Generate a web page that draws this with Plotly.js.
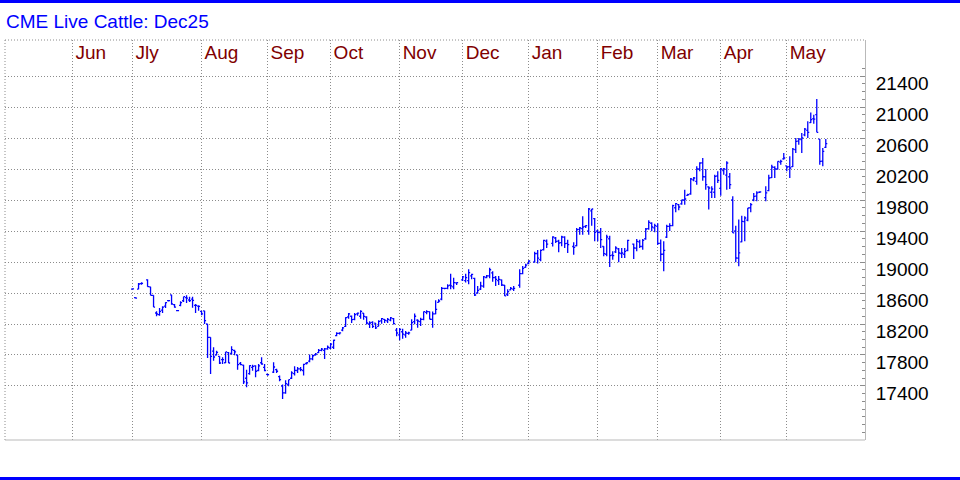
<!DOCTYPE html>
<html>
<head>
<meta charset="utf-8">
<script src="https://cdn.plot.ly/plotly-3.0.1.min.js"></script>
<style>
  html, body { margin: 0; padding: 0; background: #ffffff; }
  #chart { width: 960px; height: 480px; }
</style>
</head>
<body>
<div id="chart"></div>
<script>
// Daily trading sessions, CME Live Cattle December 2025 contract
const dates = [
  '2024-06-28',
  '2024-07-01','2024-07-02','2024-07-03','2024-07-05','2024-07-08','2024-07-09','2024-07-10','2024-07-11','2024-07-12','2024-07-15','2024-07-16','2024-07-17','2024-07-18','2024-07-19','2024-07-22','2024-07-23','2024-07-24','2024-07-25','2024-07-26','2024-07-29','2024-07-30','2024-07-31',
  '2024-08-01','2024-08-02','2024-08-05','2024-08-06','2024-08-07','2024-08-08','2024-08-09','2024-08-12','2024-08-13','2024-08-14','2024-08-15','2024-08-16','2024-08-19','2024-08-20','2024-08-21','2024-08-22','2024-08-23','2024-08-26','2024-08-27','2024-08-28','2024-08-29','2024-08-30',
  '2024-09-03','2024-09-04','2024-09-05','2024-09-06','2024-09-09','2024-09-10','2024-09-11','2024-09-12','2024-09-13','2024-09-16','2024-09-17','2024-09-18','2024-09-19','2024-09-20','2024-09-23','2024-09-24','2024-09-25','2024-09-26','2024-09-27','2024-09-30',
  '2024-10-01','2024-10-02','2024-10-03','2024-10-04','2024-10-07','2024-10-08','2024-10-09','2024-10-10','2024-10-11','2024-10-14','2024-10-15','2024-10-16','2024-10-17','2024-10-18','2024-10-21','2024-10-22','2024-10-23','2024-10-24','2024-10-25','2024-10-28','2024-10-29','2024-10-30','2024-10-31',
  '2024-11-01','2024-11-04','2024-11-05','2024-11-06','2024-11-07','2024-11-08','2024-11-11','2024-11-12','2024-11-13','2024-11-14','2024-11-15','2024-11-18','2024-11-19','2024-11-20','2024-11-21','2024-11-22','2024-11-25','2024-11-26','2024-11-27','2024-11-29',
  '2024-12-02','2024-12-03','2024-12-04','2024-12-05','2024-12-06','2024-12-09','2024-12-10','2024-12-11','2024-12-12','2024-12-13','2024-12-16','2024-12-17','2024-12-18','2024-12-19','2024-12-20','2024-12-23','2024-12-24','2024-12-26','2024-12-27','2024-12-30','2024-12-31',
  '2025-01-02','2025-01-03','2025-01-06','2025-01-07','2025-01-08','2025-01-10','2025-01-13','2025-01-14','2025-01-15','2025-01-16','2025-01-17','2025-01-21','2025-01-22','2025-01-23','2025-01-24','2025-01-27','2025-01-28','2025-01-29','2025-01-30','2025-01-31',
  '2025-02-03','2025-02-04','2025-02-05','2025-02-06','2025-02-07','2025-02-10','2025-02-11','2025-02-12','2025-02-13','2025-02-14','2025-02-18','2025-02-19','2025-02-20','2025-02-21','2025-02-24','2025-02-25','2025-02-26','2025-02-27','2025-02-28',
  '2025-03-03','2025-03-04','2025-03-05','2025-03-06','2025-03-07','2025-03-10','2025-03-11','2025-03-12','2025-03-13','2025-03-14','2025-03-17','2025-03-18','2025-03-19','2025-03-20','2025-03-21','2025-03-24','2025-03-25','2025-03-26','2025-03-27','2025-03-28','2025-03-31',
  '2025-04-01','2025-04-02','2025-04-03','2025-04-04','2025-04-07','2025-04-08','2025-04-09','2025-04-10','2025-04-11','2025-04-14','2025-04-15','2025-04-16','2025-04-17','2025-04-21','2025-04-22','2025-04-23','2025-04-24','2025-04-25','2025-04-28','2025-04-29','2025-04-30',
  '2025-05-01','2025-05-02','2025-05-05','2025-05-06','2025-05-07','2025-05-08','2025-05-09','2025-05-12','2025-05-13','2025-05-14','2025-05-15','2025-05-16','2025-05-19'
];

const opens = [
  18650,
  18540,18650,18720,18770,18680,18570,18342,18320,18380,18430,18501,18575,18450,18372,18440,18500,18540,18510,18520,18440,18430,18363,
  18370,18200,18028,17850,17800,17783,17740,17700,17830,17820,17860,17800,17690,17670,17500,17560,17640,17660,17600,17700,17640,17550,
  17580,17610,17520,17400,17310,17420,17500,17560,17600,17620,17600,17690,17720,17750,17800,17830,17860,17860,17880,17890,
  17900,18050,18080,18120,18170,18290,18300,18260,18330,18300,18340,18290,18200,18220,18210,18170,18240,18260,18240,18250,18270,18120,18060,
  18100,18060,18080,18120,18230,18250,18230,18260,18350,18360,18260,18330,18480,18520,18660,18660,18700,18680,18730,18770,
  18760,18760,18820,18790,18600,18650,18690,18800,18820,18860,18800,18760,18770,18700,18580,18640,18650,18700,18850,18930,18980,
  19000,19110,19030,19160,19270,19240,19310,19270,19250,19320,19240,19200,19210,19420,19430,19460,19400,19660,19560,19400,
  19380,19200,19100,19300,19090,19130,19170,19110,19100,19150,19230,19180,19260,19200,19300,19430,19500,19440,19460,
  19240,19100,19320,19460,19470,19700,19740,19750,19800,19860,19880,20060,20040,20200,20280,20100,19970,19900,19900,20110,19950,
  20180,20120,20100,19800,19400,19050,19260,19520,19540,19700,19800,19850,19900,19830,19920,20090,20220,20200,20290,20330,20240,
  20230,20230,20450,20560,20580,20640,20700,20800,20850,20901,20587,20300,20480
];

const highs = [
  18660,
  18545,18729,18738,18776,18682,18570,18363,18406,18428,18480,18505,18578,18458,18378,18492,18553,18570,18553,18553,18458,18441,18372,
  18372,18200,18028,17899,17856,17783,17770,17839,17839,17912,17869,17804,17710,17675,17611,17667,17675,17667,17684,17770,17684,17559,
  17706,17624,17534,17418,17473,17482,17590,17654,17645,17645,17688,17706,17805,17805,17826,17878,17890,17890,17921,17955,
  17998,18093,18093,18161,18287,18342,18310,18342,18350,18376,18342,18299,18234,18234,18213,18247,18278,18265,18278,18290,18278,18149,18149,
  18140,18110,18101,18261,18334,18261,18282,18360,18377,18360,18360,18506,18519,18678,18669,18712,18850,18798,18740,18820,
  18850,18906,18850,18798,18691,18746,18820,18832,18927,18880,18820,18820,18775,18703,18648,18678,18691,18906,18948,18979,19022,
  19133,19155,19160,19288,19290,19331,19323,19288,19340,19331,19288,19254,19439,19452,19589,19475,19697,19684,19568,19417,
  19439,19202,19353,19340,19138,19202,19181,19181,19181,19288,19240,19297,19288,19297,19439,19538,19512,19495,19500,
  19290,19267,19482,19500,19740,19762,19750,19805,19934,19882,20084,20097,20235,20286,20342,20200,19977,19977,20127,20170,20213,
  20213,20299,20149,19848,19469,19550,19598,19590,19697,19762,19891,19912,19912,19977,20127,20256,20235,20299,20321,20407,20243,
  20364,20471,20600,20600,20665,20729,20815,20931,20901,21103,20587,20471,20587
];

const lows = [
  18645,
  18530,18647,18707,18682,18570,18419,18299,18308,18342,18406,18490,18450,18411,18368,18428,18484,18471,18484,18411,18342,18372,18312,
  18200,17761,17555,17727,17796,17684,17684,17697,17697,17804,17796,17611,17667,17426,17383,17546,17598,17512,17590,17675,17590,17533,
  17568,17568,17460,17233,17301,17396,17491,17534,17568,17590,17534,17676,17706,17731,17792,17826,17848,17749,17869,17878,
  17878,18041,18063,18106,18161,18269,18213,18248,18308,18269,18256,18192,18149,18149,18136,18170,18204,18213,18213,18234,18192,18041,17990,
  18010,18024,18060,18119,18196,18153,18175,18248,18325,18261,18153,18325,18476,18506,18648,18648,18648,18648,18703,18755,
  18734,18712,18777,18562,18590,18640,18669,18789,18789,18746,18691,18703,18691,18562,18562,18635,18626,18669,18841,18927,18970,
  18992,18980,19009,19150,19180,19200,19245,19125,19202,19181,19116,19095,19202,19353,19353,19439,19353,19469,19267,19267,
  19181,19073,19073,18936,19030,19116,18996,19052,19052,19138,19039,19138,19181,19159,19288,19417,19396,19383,19220,
  19009,18880,19310,19400,19460,19641,19667,19740,19740,19856,19869,20041,19998,20170,20050,19934,19676,19826,19826,20020,19856,
  20127,19934,19942,19375,18996,18945,19254,19267,19525,19641,19783,19783,19891,19783,19912,20084,20084,20192,20256,20321,20170,
  20084,20226,20407,20514,20407,20622,20600,20794,20785,20673,20256,20235,20471
];

const closes = [
  18652,
  18535,18716,18725,18682,18570,18419,18329,18363,18419,18475,18501,18458,18419,18372,18475,18553,18535,18501,18505,18441,18428,18330,
  18243,18028,17783,17774,17835,17697,17740,17839,17697,17869,17839,17675,17675,17452,17439,17663,17654,17590,17660,17684,17600,17546,
  17645,17590,17482,17310,17430,17482,17568,17602,17620,17611,17680,17700,17749,17790,17810,17860,17875,17878,17900,17940,
  17990,18080,18085,18150,18282,18330,18256,18320,18340,18363,18299,18213,18213,18170,18149,18234,18270,18247,18260,18278,18204,18084,18130,
  18070,18084,18085,18218,18300,18239,18260,18360,18360,18261,18330,18390,18497,18660,18660,18691,18691,18734,18734,18807,
  18798,18863,18841,18574,18635,18691,18807,18820,18900,18798,18777,18777,18703,18562,18617,18660,18660,18850,18918,18961,19013,
  19108,19050,19150,19280,19230,19323,19267,19245,19323,19237,19224,19189,19417,19439,19452,19469,19684,19684,19383,19383,
  19288,19108,19323,19082,19082,19181,19116,19116,19138,19280,19181,19267,19202,19280,19426,19512,19452,19469,19240,
  19100,19150,19460,19470,19727,19753,19710,19800,19813,19870,20071,20084,20200,20278,20100,19998,19955,19942,20106,20054,20200,
  20200,20278,19998,19375,19052,19117,19525,19568,19697,19740,19848,19891,19905,19891,20084,20226,20200,20299,20299,20342,20226,
  20213,20458,20557,20587,20600,20716,20673,20837,20845,20673,20299,20428,20527
];

// Month separators sit on the last session of the previous month
const monthLines = ['2024-05-31','2024-06-28','2024-07-31','2024-08-30','2024-09-30','2024-10-31',
                    '2024-11-29','2024-12-31','2025-01-31','2025-02-28','2025-03-31','2025-04-30'];
const monthNames = ['Jun','Jly','Aug','Sep','Oct','Nov','Dec','Jan','Feb','Mar','Apr','May'];

const priceTicks = [17400,17800,18200,18600,19000,19400,19800,20200,20600,21000,21400];

const BLUE = '#0000ff';
const GRID = '#8c8c8c';
const FRAME = '#b9b9b9';
const FONT = 'Liberation Sans, Arial, Helvetica, sans-serif';
const DOTS = '1px,2px';

// each daily bar sits in the middle of its weekday slot
const midday = d => d + ' 12:00';

const bars = {
  type: 'ohlc',
  x: dates.map(midday),
  open: opens,
  high: highs,
  low: lows,
  close: closes,
  increasing: { line: { color: BLUE, width: 1.3 } },
  decreasing: { line: { color: BLUE, width: 1.3 } },
  tickwidth: 0.5,
  hoverinfo: 'skip',
  showlegend: false
};

const layout = {
  width: 960,
  height: 480,
  margin: { l: 5, r: 95, t: 40, b: 40, pad: 0 },
  paper_bgcolor: '#ffffff',
  plot_bgcolor: '#ffffff',
  showlegend: false,
  title: {
    text: 'CME Live Cattle: Dec25',
    font: { family: FONT, size: 19, color: BLUE },
    xref: 'container', x: 6 / 960, xanchor: 'left',
    yref: 'container', y: 1 - 21 / 480, yanchor: 'middle'
  },
  xaxis: {
    type: 'date',
    range: ['2024-05-01 00:00', '2025-06-05 13:40'],
    rangebreaks: [{ bounds: ['sat', 'mon'] }],
    rangeslider: { visible: false },
    side: 'top',
    tickmode: 'array',
    tickvals: monthLines.map(midday),
    ticktext: monthNames,
    ticks: '',
    ticklabelposition: 'inside right',
    ticklabelshift: 3,
    tickfont: { family: FONT, size: 19, color: '#800000' },
    showgrid: true,
    gridcolor: GRID,
    gridwidth: 1,
    griddash: DOTS,
    showline: false,
    zeroline: false,
    fixedrange: true
  },
  yaxis: {
    side: 'right',
    range: [16703, 21865],
    tickmode: 'array',
    tickvals: priceTicks,
    ticktext: priceTicks.map(String),
    ticks: 'inside',
    ticklen: 4,
    tickcolor: GRID,
    ticklabelstandoff: 6,
    ticklabelshift: 7,
    tickfont: { family: FONT, size: 19, color: '#000000' },
    showline: true,
    linecolor: FRAME,
    linewidth: 1,
    showgrid: true,
    gridcolor: GRID,
    gridwidth: 1,
    griddash: DOTS,
    zeroline: false,
    fixedrange: true,
    minor: { tick0: 0, dtick: 100, ticks: 'inside', ticklen: 3, tickcolor: GRID, showgrid: false }
  },
  shapes: [
    // dotted top and left edges of the plotting area
    { type: 'line', xref: 'paper', yref: 'paper', x0: 0, x1: 1, y0: 1, y1: 1, line: { color: GRID, width: 1, dash: DOTS } },
    { type: 'line', xref: 'paper', yref: 'paper', x0: 0, x1: 0, y0: 0, y1: 1, line: { color: GRID, width: 1, dash: DOTS } },
    // solid base line
    { type: 'line', xref: 'paper', yref: 'paper', x0: 0, x1: 1, y0: 0, y1: 0, line: { color: FRAME, width: 1 } },
    // blue rules across the top and bottom of the panel
    { type: 'line', xref: 'paper', yref: 'paper', x0: -5 / 860, x1: 955 / 860, y0: 438.5 / 400, y1: 438.5 / 400, line: { color: BLUE, width: 3 } },
    { type: 'line', xref: 'paper', yref: 'paper', x0: -5 / 860, x1: 955 / 860, y0: -38.5 / 400, y1: -38.5 / 400, line: { color: BLUE, width: 3 } }
  ]
};

Plotly.newPlot('chart', [bars], layout, { displayModeBar: false, staticPlot: true });
</script>
</body>
</html>
